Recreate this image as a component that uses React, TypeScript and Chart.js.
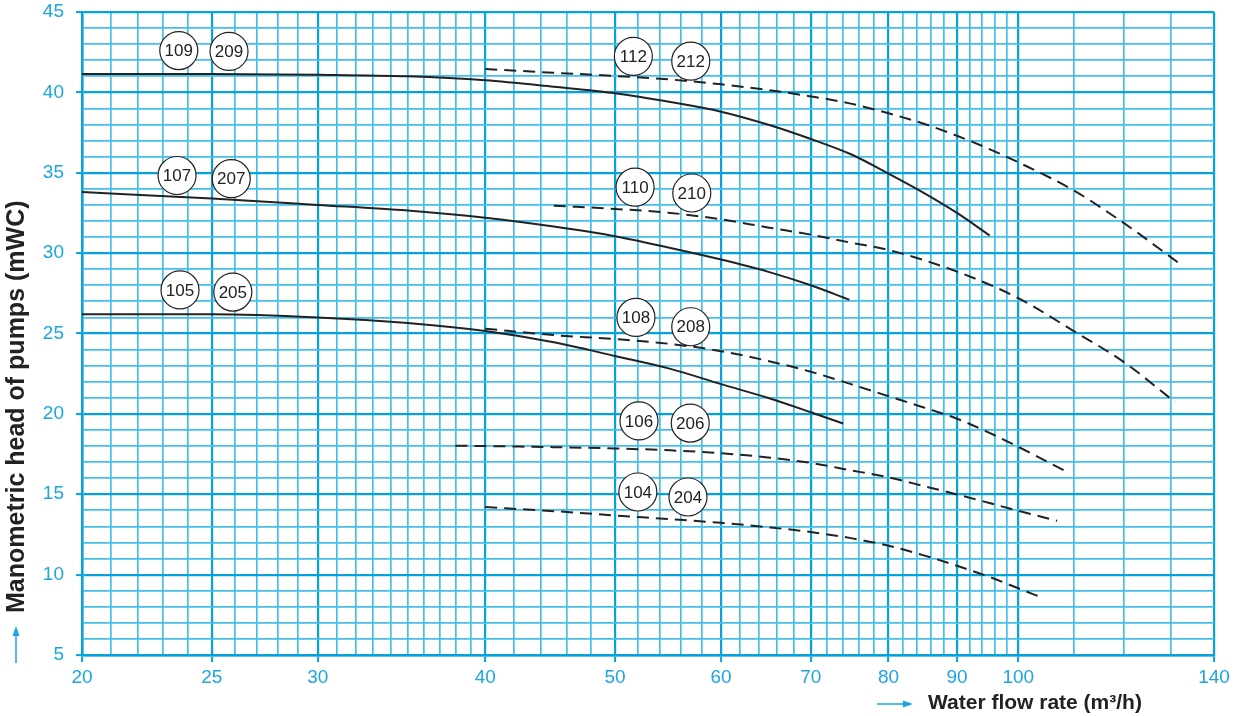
import React, { useEffect, useRef } from "react";
import { Chart, registerables } from "chart.js";

Chart.register(...registerables);

// ---------- axes ----------
const xGridValues = [
  20, 21, 22, 23, 24, 25, 26, 27, 28, 29, 30, 31, 32, 33, 34, 35, 36, 37, 38, 39,
  40, 42, 44, 46, 48, 50, 52, 54, 56, 58, 60, 62, 64, 66, 68, 70, 72, 74, 76, 78,
  80, 82, 84, 86, 88, 90, 92, 94, 96, 98, 100, 110, 120, 130, 140,
];
const xLabelValues = [20, 25, 30, 40, 50, 60, 70, 80, 90, 100, 140];
const yLabelValues = [5, 10, 15, 20, 25, 30, 35, 40, 45];
const xMin = 20;
const xMax = 140;
const yMin = 5;
const yMax = 45;

const yTitle = "Manometric head of pumps (mWC)";
const xTitle = "Water flow rate (m³/h)";

// ---------- pump curves (flow m³/h, head mWC) ----------
const q109 = [20, 25, 30, 35, 40, 45, 50, 55, 60, 65, 70, 75, 80, 85, 90, 95.2];
const h109 = [41.15, 41.15, 41.1, 41.0, 40.75, 40.35, 39.95, 39.4, 38.8, 38.0, 37.1, 36.15, 34.95, 33.75, 32.5, 31.1];

const q212 = [40, 45, 50, 55, 60, 65, 70, 75, 80, 85, 90, 95, 100, 110, 120, 131.7];
const h212 = [41.45, 41.22, 41.02, 40.8, 40.5, 40.15, 39.75, 39.3, 38.7, 38.05, 37.3, 36.5, 35.65, 33.9, 31.85, 29.4];

const q107 = [20, 25, 30, 35, 40, 45, 50, 55, 60, 65, 70, 74.8];
const h107 = [33.8, 33.4, 33.0, 32.65, 32.2, 31.65, 31.05, 30.32, 29.6, 28.85, 28.0, 27.1];

const q210 = [45, 50, 55, 60, 65, 70, 75, 80, 90, 100, 110, 120, 130.9];
const h210 = [32.95, 32.75, 32.5, 32.1, 31.6, 31.15, 30.65, 30.2, 28.85, 27.2, 25.15, 23.2, 20.74];

const q105 = [20, 25, 30, 35, 40, 45, 50, 55, 60, 65, 70, 74];
const h105 = [26.2, 26.2, 26.0, 25.65, 25.15, 24.45, 23.6, 22.8, 21.85, 21.0, 20.1, 19.4];

const q208 = [40, 45, 50, 55, 60, 65, 70, 75, 80, 85, 90, 95, 100, 108.7];
const h208 = [25.3, 24.9, 24.65, 24.35, 23.9, 23.3, 22.62, 21.85, 21.1, 20.4, 19.7, 18.85, 17.95, 16.4];

const q206 = [38, 40, 45, 50, 55, 60, 65, 70, 75, 80, 85, 90, 95, 100, 106.9];
const h206 = [18.02, 18.0, 17.93, 17.85, 17.73, 17.55, 17.29, 16.95, 16.49, 16.05, 15.51, 14.99, 14.47, 13.97, 13.35];

const q204 = [40, 45, 50, 55, 60, 65, 70, 75, 80, 85, 90, 95, 100, 104.3];
const h204 = [14.2, 13.95, 13.68, 13.45, 13.22, 12.95, 12.65, 12.27, 11.8, 11.2, 10.55, 9.88, 9.15, 8.55];

// ---------- curve badges (model numbers) ----------
const badgeText = ["109", "209", "112", "212", "107", "207", "110", "210", "105", "205", "108", "208", "106", "206", "104", "204"];
const badgeQ = [23.62, 25.75, 51.6, 56.95, 23.55, 25.85, 51.75, 57.05, 23.67, 25.92, 51.83, 56.95, 52.1, 56.9, 52.0, 56.68];
const badgeH = [42.6, 42.55, 42.24, 41.94, 34.83, 34.63, 34.1, 33.74, 27.71, 27.58, 26.0, 25.42, 19.56, 19.43, 15.14, 14.83];

// ---------- styles ----------
const BLUE_TEXT = "#1ba6df";
const GRID_MINOR = "#45bfea";
const GRID_MAJOR = "#06a2dc";
const CURVE = "#222222";
const FONT = "'Liberation Sans', Arial, Helvetica, sans-serif";

const makePts = (qs: number[], hs: number[]) => qs.map((q, i) => ({ x: q, y: hs[i] }));

const overlayPlugin = {
  id: "overlay",
  afterDatasetsDraw(chart: any) {
    const ctx: CanvasRenderingContext2D = chart.ctx;
    const xs = chart.scales.x;
    const ys = chart.scales.y;
    // badges
    ctx.save();
    for (let i = 0; i < badgeText.length; i++) {
      const px = xs.getPixelForValue(badgeQ[i]);
      const py = ys.getPixelForValue(badgeH[i]);
      ctx.beginPath();
      ctx.arc(px, py, 19, 0, Math.PI * 2);
      ctx.fillStyle = "#ffffff";
      ctx.fill();
      ctx.lineWidth = 1.2;
      ctx.strokeStyle = CURVE;
      ctx.stroke();
      ctx.fillStyle = CURVE;
      ctx.font = `17px ${FONT}`;
      ctx.textAlign = "center";
      ctx.textBaseline = "middle";
      ctx.fillText(badgeText[i], px, py + 1);
    }
    ctx.restore();

    const area = chart.chartArea;
    ctx.save();
    // y title
    ctx.fillStyle = CURVE;
    ctx.textBaseline = "middle";
    ctx.textAlign = "left";
    ctx.save();
    ctx.font = `bold 25px ${FONT}`;
    ctx.translate(17, area.bottom - 42);
    ctx.rotate(-Math.PI / 2);
    ctx.fillText(yTitle, 0, 0);
    ctx.restore();
    // x title
    ctx.font = `bold 21px ${FONT}`;
    ctx.fillText(xTitle, 928, 703);

    // arrows
    ctx.strokeStyle = BLUE_TEXT;
    ctx.fillStyle = BLUE_TEXT;
    ctx.lineWidth = 1.5;
    // vertical arrow
    ctx.beginPath();
    ctx.moveTo(16, 663);
    ctx.lineTo(16, 634);
    ctx.stroke();
    ctx.beginPath();
    ctx.moveTo(16, 626);
    ctx.lineTo(12.5, 636);
    ctx.lineTo(19.5, 636);
    ctx.closePath();
    ctx.fill();
    // horizontal arrow
    ctx.beginPath();
    ctx.moveTo(877, 704);
    ctx.lineTo(905, 704);
    ctx.stroke();
    ctx.beginPath();
    ctx.moveTo(913, 704);
    ctx.lineTo(903, 700.5);
    ctx.lineTo(903, 707.5);
    ctx.closePath();
    ctx.fill();
    ctx.restore();
  },
};

export default function App() {
  const canvasRef = useRef<HTMLCanvasElement | null>(null);

  useEffect(() => {
    if (!canvasRef.current) return;
    const solid = { borderColor: CURVE, borderWidth: 2, pointRadius: 0, cubicInterpolationMode: "monotone" as const, fill: false };
    const dashed = { ...solid, borderDash: [12, 7] };
    const isMajorX = (v: number) => xLabelValues.includes(v);
    const isMajorY = (v: number) => yLabelValues.includes(v);

    const chart = new Chart(canvasRef.current, {
      type: "line",
      data: {
        datasets: [
          { label: "109", data: makePts(q109, h109), ...solid },
          { label: "212", data: makePts(q212, h212), ...dashed },
          { label: "107", data: makePts(q107, h107), ...solid },
          { label: "210", data: makePts(q210, h210), ...dashed },
          { label: "105", data: makePts(q105, h105), ...solid },
          { label: "208", data: makePts(q208, h208), ...dashed },
          { label: "206", data: makePts(q206, h206), ...dashed },
          { label: "204", data: makePts(q204, h204), ...dashed },
        ],
      },
      options: {
        responsive: false,
        animation: false,
        devicePixelRatio: 1,
        layout: { padding: { top: 12, right: 26, left: 0, bottom: 0 } },
        plugins: { legend: { display: false }, tooltip: { enabled: false } },
        scales: {
          x: {
            type: "logarithmic",
            min: xMin,
            max: xMax,
            afterBuildTicks: (scale: any) => {
              scale.ticks = xGridValues.map((v) => ({ value: v }));
            },
            afterFit: (scale: any) => {
              scale.height = 61;
              scale.paddingLeft = 0;
              scale.paddingRight = 0;
            },
            ticks: {
              autoSkip: false,
              maxRotation: 0,
              minRotation: 0,
              padding: 4,
              color: BLUE_TEXT,
              font: { family: FONT, size: 19 },
              callback: (v: any) => (xLabelValues.includes(Number(v)) ? String(v) : ""),
            },
            grid: {
              color: (c: any) => (isMajorX(c.tick?.value) ? GRID_MAJOR : GRID_MINOR),
              lineWidth: (c: any) => (isMajorX(c.tick?.value) ? 2.2 : 1.7),
              tickColor: (c: any) => (isMajorX(c.tick?.value) ? GRID_MAJOR : "rgba(0,0,0,0)"),
              tickLength: 7,
              tickWidth: 2,
            },
            border: { display: true, color: GRID_MAJOR, width: 2.5 },
          },
          y: {
            type: "linear",
            min: yMin,
            max: yMax,
            afterFit: (scale: any) => {
              scale.width = 82;
              scale.paddingTop = 0;
              scale.paddingBottom = 0;
            },
            ticks: {
              stepSize: 1,
              autoSkip: false,
              padding: 12,
              color: BLUE_TEXT,
              font: { family: FONT, size: 19 },
              callback: (v: any) => (yLabelValues.includes(Number(v)) ? String(v) : ""),
            },
            grid: {
              color: (c: any) => (isMajorY(c.tick?.value) ? GRID_MAJOR : GRID_MINOR),
              lineWidth: (c: any) => (isMajorY(c.tick?.value) ? 2.2 : 1.7),
              tickColor: (c: any) => (isMajorY(c.tick?.value) ? GRID_MAJOR : "rgba(0,0,0,0)"),
              tickLength: 6,
              tickWidth: 2,
            },
            border: { display: true, color: GRID_MAJOR, width: 2.5 },
          },
        },
      },
      plugins: [overlayPlugin],
    });
    return () => chart.destroy();
  }, []);

  return (
    <div style={{ position: "absolute", left: 0, top: 0, width: 1240, height: 716, background: "#ffffff" }}>
      <canvas ref={canvasRef} width={1240} height={716} />
    </div>
  );
}
